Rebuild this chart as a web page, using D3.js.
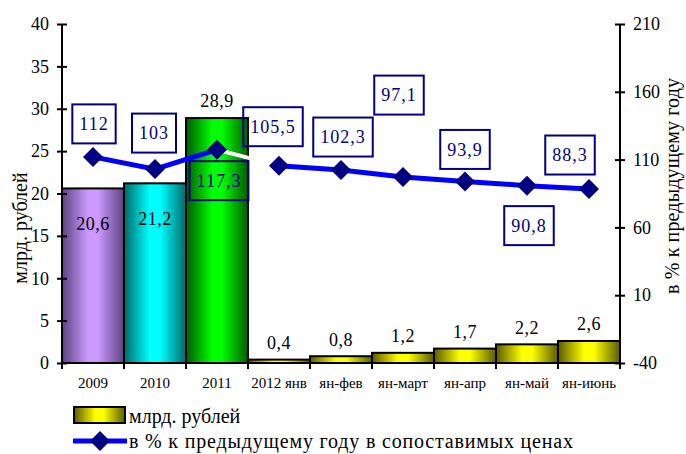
<!DOCTYPE html>
<html><head><meta charset="utf-8">
<script src="https://cdn.jsdelivr.net/npm/d3@7"></script>
</head>
<body style="margin:0;background:#fff">
<svg id="chart" width="686" height="454"></svg>
<script>
// ---- data ----
const categories = ["2009","2010","2011","2012 янв","ян-фев","ян-март","ян-апр","ян-май","ян-июнь"];
const billions = [20.6, 21.2, 28.9, 0.4, 0.8, 1.2, 1.7, 2.2, 2.6];
const percent = [112, 103, 117.3, 105.5, 102.3, 97.1, 93.9, 90.8, 88.3];
const leftTicks = [0,5,10,15,20,25,30,35,40];
const rightTicks = [-40,10,60,110,160,210];
const seriesNames = ["млрд. рублей", "в % к предыдущему году в сопоставимых ценах"];
const leftTitle = "млрд. рублей";
const rightTitle = "в % к предыдущему году";

// ---- layout / style ----
const FONT = '"Liberation Serif"';
// warm up the font
{
  const ctx = document.createElement("canvas").getContext("2d");
  [14,15,17,18,20].forEach(s=>{ ctx.font = `${s}px ${FONT}`; ctx.measureText("млрд. рублей 2009 в % к"); });
  if (document.fonts && document.fonts.load) document.fonts.load(`18px ${FONT}`, "млрд 2009");
}
const barFills = ["purple","cyan","green","yellow","yellow","yellow","yellow","yellow","yellow"];
const barLabelPlace = ["inside","inside","above","above","above","above","above","above","above"];
const boxOffsets = [[1,-33],[-1,-36],[2,31],[-6,-39],[2,-33],[-4,-82],[0,-32],[2,40],[-19,-34]];
const plot = {left:62, right:620, top:24, bottom:363};

const svg = d3.select("#chart");
const defs = svg.append("defs");
const grads = {
  purple:["#5c4280","#cc99ff"],
  cyan:["#006a6a","#00ffff"],
  green:["#005a00","#00ff00"],
  yellow:["#5a5a00","#ffff00"]
};
Object.entries(grads).forEach(([k,[dark,light]])=>{
  const g = defs.append("linearGradient").attr("id","g-"+k).attr("x1","0").attr("x2","1").attr("y1","0").attr("y2","0");
  g.append("stop").attr("offset","0%").attr("stop-color",dark);
  g.append("stop").attr("offset","42%").attr("stop-color",light);
  g.append("stop").attr("offset","58%").attr("stop-color",light);
  g.append("stop").attr("offset","100%").attr("stop-color",dark);
});

const x = d3.scaleBand().domain(categories).range([plot.left, plot.right]).padding(0);
const yL = d3.scaleLinear().domain([0,40]).range([plot.bottom, plot.top]);
const yR = d3.scaleLinear().domain([-40,210]).range([plot.bottom, plot.top]);
const fmt = v => d3.format(".1~f")(v).replace(".", ",");

// bars
svg.append("g").selectAll("rect").data(billions).join("rect")
  .attr("x", (d,i)=>x(categories[i]))
  .attr("width", x.bandwidth())
  .attr("y", d=>yL(d))
  .attr("height", d=>yL(0)-yL(d))
  .attr("fill", (d,i)=>"url(#g-"+barFills[i]+")")
  .attr("stroke","#000").attr("stroke-width",2);

// bar labels
svg.append("g").selectAll("text").data(billions).join("text")
  .attr("x", (d,i)=>x(categories[i])+x.bandwidth()/2)
  .attr("y", (d,i)=> barLabelPlace[i]==="inside" ? yL(d)+35 : yL(d)-17)
  .attr("dy","0.35em")
  .attr("text-anchor","middle")
  .attr("font-size",18).attr("fill","#000")
  .style("letter-spacing","0.5px")
  .text(d=>fmt(d));

// axes
const axL = svg.append("g").attr("transform",`translate(${plot.left},0)`)
  .call(d3.axisLeft(yL).tickValues(leftTicks).tickSize(5).tickPadding(8).tickFormat(d=>d));
const axR = svg.append("g").attr("transform",`translate(${plot.right},0)`)
  .call(d3.axisRight(yR).tickValues(rightTicks).tickSize(5).tickPadding(8).tickFormat(d=>d));
const axB = svg.append("g").attr("transform",`translate(0,${plot.bottom})`)
  .call(d3.axisBottom(x).tickSize(0).tickPadding(14));
[axL,axR,axB].forEach(a=>{
  a.select(".domain").attr("stroke","#000").attr("stroke-width",2);
  a.selectAll(".tick line").attr("stroke","#000").attr("stroke-width",2);
  a.selectAll("text").attr("fill","#000");
});
axL.selectAll(".tick line").attr("x1",5).attr("x2",-5);
axR.selectAll(".tick line").attr("x1",-5).attr("x2",5);
axL.selectAll("text").attr("font-size",18);
axR.selectAll("text").attr("font-size",18);
axB.selectAll("text").attr("font-size",15);
axL.select(".domain").attr("d",`M0,${plot.bottom}V${plot.top}`);
axR.select(".domain").attr("d",`M0,${plot.bottom}V${plot.top}`);
axB.select(".domain").attr("d",`M${plot.left},0H${plot.right}`);
// bottom category boundary ticks
const bounds = categories.map(c=>x(c)).concat([plot.right]);
svg.append("g").selectAll("line").data(bounds).join("line")
  .attr("x1",d=>d).attr("x2",d=>d).attr("y1",plot.bottom-2).attr("y2",plot.bottom+6)
  .attr("stroke","#000").attr("stroke-width",2);

// axis titles
svg.append("text").attr("transform",`translate(20,228) rotate(-90)`)
  .attr("text-anchor","middle").attr("dy","0.35em").attr("font-size",20).text(leftTitle);
svg.append("text").attr("transform",`translate(672,186) rotate(-90)`)
  .attr("text-anchor","middle").attr("dy","0.35em").attr("font-size",20)
  .attr("textLength",216).attr("lengthAdjust","spacing").text(rightTitle);

// line
const pts = percent.map((v,i)=>[x(categories[i])+x.bandwidth()/2, yR(v)]);
const line = d3.line();
svg.append("path").attr("d", line(pts.slice(2,4))).attr("fill","none").attr("stroke","#fff").attr("stroke-width",4);
svg.append("path").attr("d", line(pts.slice(0,3))).attr("fill","none").attr("stroke","#0000ff").attr("stroke-width",5);
svg.append("path").attr("d", line(pts.slice(3))).attr("fill","none").attr("stroke","#0000ff").attr("stroke-width",5);
const diamond = d3.symbol().type(d3.symbolSquare).size(200);
svg.append("g").selectAll("path").data(pts).join("path")
  .attr("d", diamond)
  .attr("transform", d=>`translate(${d[0]},${d[1]}) rotate(45)`)
  .attr("fill","#000080");

// boxed percent labels
const lg = svg.append("g");
percent.forEach((v,i)=>{
  const cx = pts[i][0]+boxOffsets[i][0], cy = pts[i][1]+boxOffsets[i][1];
  const t = lg.append("text").attr("x",cx).attr("y",cy).attr("dy","0.35em")
    .attr("text-anchor","middle").attr("font-size",18).attr("fill","#000080")
    .style("font-family",FONT).style("letter-spacing","1px").text(fmt(v));
  const bb = t.node().getBBox();
  lg.insert("rect","text").attr("x",cx-bb.width/2-7).attr("y",cy-19.5).attr("width",bb.width+14).attr("height",39)
    .attr("fill","none").attr("stroke","#000080").attr("stroke-width",2);
});

// legend
const leg = svg.append("g");
leg.append("rect").attr("x",74).attr("y",407).attr("width",51).attr("height",16)
  .attr("fill","url(#g-yellow)").attr("stroke","#000").attr("stroke-width",2);
leg.append("text").attr("x",129).attr("y",416).attr("dy","0.35em").attr("font-size",20).text(seriesNames[0]);
leg.append("line").attr("x1",73).attr("x2",127).attr("y1",441).attr("y2",441).attr("stroke","#0000ff").attr("stroke-width",5);
leg.append("path").attr("d",diamond).attr("transform","translate(100,441) rotate(45)").attr("fill","#000080");
leg.append("text").attr("x",129).attr("y",441).attr("dy","0.35em").attr("font-size",20)
  .attr("textLength",444).attr("lengthAdjust","spacing").text(seriesNames[1]);

// font everywhere
svg.selectAll("g").attr("font-family", null);
svg.selectAll("text").style("font-family", FONT).attr("font-family", "Liberation Serif");
</script>
</body></html>
